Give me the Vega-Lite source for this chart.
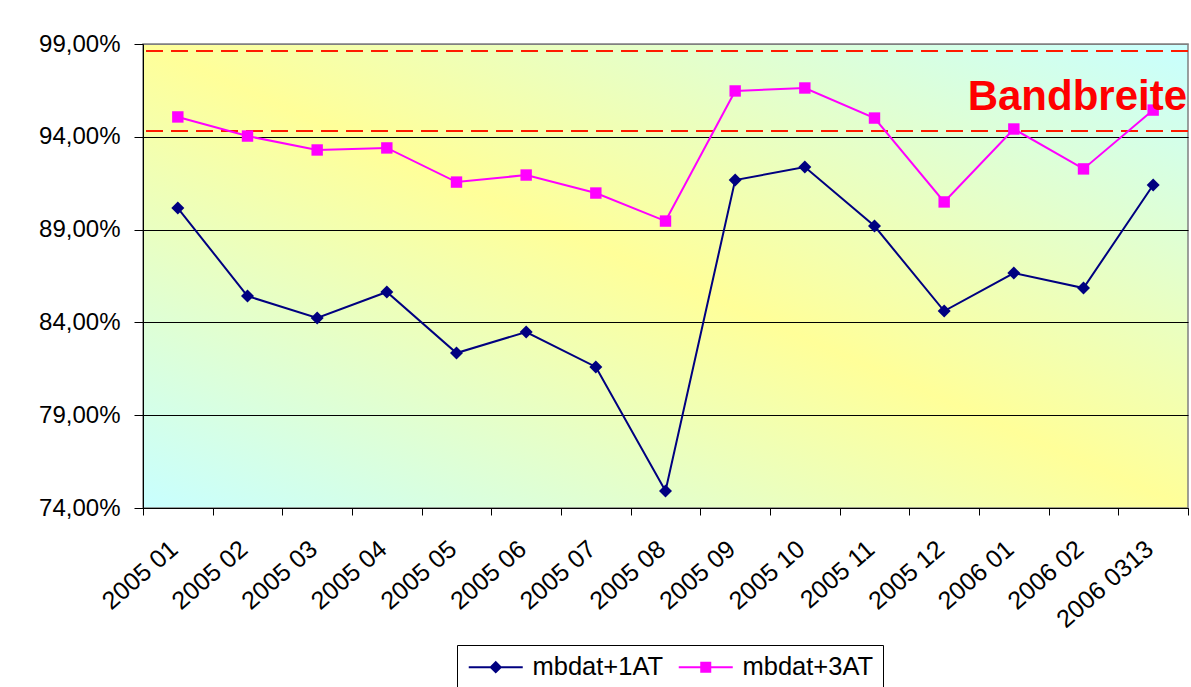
{
  "$schema": "https://vega.github.io/schema/vega-lite/v6.json",
  "width": 1045,
  "height": 464,
  "autosize": {"type": "none"},
  "padding": {"left": 143, "top": 44, "right": 3, "bottom": 179},
  "background": "white",
  "view": {
    "fill": {"gradient": "linear", "x1": 0, "y1": 1, "x2": 1, "y2": 0,
      "stops": [{"offset": 0, "color": "#c8ffff"}, {"offset": 0.5, "color": "#ffff99"}, {"offset": 1, "color": "#c8ffff"}]},
    "stroke": "#808080",
    "strokeWidth": 1.5
  },
  "config": {
    "font": "Liberation Sans",
    "axis": {"labelFont": "Liberation Sans", "labelColor": "black", "domainColor": "black", "tickColor": "black", "title": null}
  },
  "datasets": {
    "series": [
      {"month": "2005 01", "series": "mbdat+1AT", "marker": "diamond", "value": 90.16},
      {"month": "2005 02", "series": "mbdat+1AT", "marker": "diamond", "value": 85.42},
      {"month": "2005 03", "series": "mbdat+1AT", "marker": "diamond", "value": 84.24},
      {"month": "2005 04", "series": "mbdat+1AT", "marker": "diamond", "value": 85.64},
      {"month": "2005 05", "series": "mbdat+1AT", "marker": "diamond", "value": 82.35},
      {"month": "2005 06", "series": "mbdat+1AT", "marker": "diamond", "value": 83.48},
      {"month": "2005 07", "series": "mbdat+1AT", "marker": "diamond", "value": 81.6},
      {"month": "2005 08", "series": "mbdat+1AT", "marker": "diamond", "value": 74.92},
      {"month": "2005 09", "series": "mbdat+1AT", "marker": "diamond", "value": 91.67},
      {"month": "2005 10", "series": "mbdat+1AT", "marker": "diamond", "value": 92.37},
      {"month": "2005 11", "series": "mbdat+1AT", "marker": "diamond", "value": 89.19},
      {"month": "2005 12", "series": "mbdat+1AT", "marker": "diamond", "value": 84.61},
      {"month": "2006 01", "series": "mbdat+1AT", "marker": "diamond", "value": 86.66},
      {"month": "2006 02", "series": "mbdat+1AT", "marker": "diamond", "value": 85.85},
      {"month": "2006 0313", "series": "mbdat+1AT", "marker": "diamond", "value": 91.4},
      {"month": "2005 01", "series": "mbdat+3AT", "marker": "square", "value": 95.07},
      {"month": "2005 02", "series": "mbdat+3AT", "marker": "square", "value": 94.04},
      {"month": "2005 03", "series": "mbdat+3AT", "marker": "square", "value": 93.29},
      {"month": "2005 04", "series": "mbdat+3AT", "marker": "square", "value": 93.4},
      {"month": "2005 05", "series": "mbdat+3AT", "marker": "square", "value": 91.56},
      {"month": "2005 06", "series": "mbdat+3AT", "marker": "square", "value": 91.94},
      {"month": "2005 07", "series": "mbdat+3AT", "marker": "square", "value": 90.97},
      {"month": "2005 08", "series": "mbdat+3AT", "marker": "square", "value": 89.46},
      {"month": "2005 09", "series": "mbdat+3AT", "marker": "square", "value": 96.47},
      {"month": "2005 10", "series": "mbdat+3AT", "marker": "square", "value": 96.63},
      {"month": "2005 11", "series": "mbdat+3AT", "marker": "square", "value": 95.01},
      {"month": "2005 12", "series": "mbdat+3AT", "marker": "square", "value": 90.49},
      {"month": "2006 01", "series": "mbdat+3AT", "marker": "square", "value": 94.42},
      {"month": "2006 02", "series": "mbdat+3AT", "marker": "square", "value": 92.27},
      {"month": "2006 0313", "series": "mbdat+3AT", "marker": "square", "value": 95.44}
    ],
    "bands": [{"value": 98.62}, {"value": 94.31}],
    "labels": [{"month": "2006 0313", "value": 95.44, "text": "Bandbreite"}]
  },
  "encoding": {
    "x": {
      "field": "month", "type": "nominal", "sort": null,
      "scale": {"type": "band", "paddingInner": 0, "paddingOuter": 0},
      "axis": {"tickBand": "extent", "labelAngle": -41, "labelAlign": "right", "labelBaseline": "middle",
        "labelFontSize": 25, "tickSize": 7, "labelPadding": 30, "labelOffset": -4, "grid": false, "domainColor": "black", "labelOverlap": false}
    },
    "y": {
      "field": "value", "type": "quantitative",
      "scale": {"domain": [74, 99], "nice": false, "zero": false},
      "axis": {"values": [74, 79, 84, 89, 94, 99], "grid": true,
        "gridColor": {"condition": {"test": "datum.value === 99", "value": "#808080"}, "value": "black"},
        "gridWidth": 1, "tickSize": 9, "labelPadding": 14, "labelFontSize": 24,
        "labelExpr": "replace(format(datum.value, '.2f'), '.', ',') + '%'"}
    }
  },
  "layer": [
    {
      "data": {"name": "bands"},
      "mark": {"type": "rule", "color": "#ff1a00", "strokeWidth": 2, "strokeDash": [17, 8]},
      "encoding": {"x": null, "y": {"field": "value", "type": "quantitative"}}
    },
    {
      "data": {"name": "series"},
      "encoding": {
        "color": {"field": "series", "type": "nominal",
          "scale": {"domain": ["mbdat+1AT", "mbdat+3AT"], "range": ["#000080", "#ff00ff"]},
          "legend": {
            "orient": "none", "legendX": 314, "legendY": 601, "direction": "horizontal",
            "title": null, "strokeColor": "black", "fillColor": "white", "padding": 9,
            "labelFont": "Liberation Sans", "labelFontSize": 25.5, "labelColor": "black",
            "symbolSize": 400, "labelOffset": 41, "columnPadding": 10,
            "symbolStrokeWidth": 2,
            "encode": {
              "symbols": {
                "update": {
                  "shape": {"signal": "datum.value === 'mbdat+1AT' ? 'M-1,0H4.4M1.7,-0.5L2.2,0L1.7,0.5L1.2,0Z' : 'M-1,0H4.4M1.25,-0.45H2.15V0.45H1.25Z'"},
                  "stroke": {"signal": "datum.value === 'mbdat+1AT' ? '#000080' : '#ff00ff'"},
                  "fill": {"signal": "datum.value === 'mbdat+1AT' ? '#000080' : '#ff00ff'"},
                  "strokeWidth": {"value": 2},
                  "opacity": {"value": 1}
                }
              }
            }
          }}
      },
      "layer": [
        {"mark": {"type": "line", "strokeWidth": 2}},
        {
          "mark": {"type": "point", "filled": true, "opacity": 1},
          "encoding": {
            "shape": {"field": "marker", "type": "nominal",
              "scale": {"domain": ["diamond", "square"], "range": ["diamond", "square"]}, "legend": null},
            "size": {"field": "marker", "type": "nominal",
              "scale": {"domain": ["diamond", "square"], "range": [169, 130]}, "legend": null}
          }
        }
      ]
    },
    {
      "data": {"name": "labels"},
      "mark": {"type": "text", "align": "right", "baseline": "alphabetic", "fontSize": 42, "fontWeight": "bold", "font": "Liberation Sans", "color": "#ff0000", "dx": -1},
      "encoding": {
        "x": {"field": "month", "type": "nominal", "bandPosition": 1},
        "text": {"field": "text"}
      }
    }
  ]
}
